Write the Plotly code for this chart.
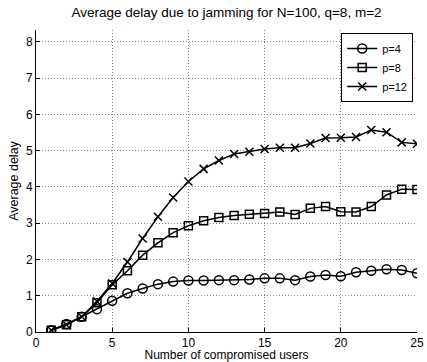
import plotly.graph_objects as go

users = list(range(1, 26))
delay_p4 = [0.05, 0.22, 0.42, 0.63, 0.86, 1.07, 1.20, 1.32, 1.39, 1.42, 1.42, 1.43, 1.43, 1.45, 1.48,
            1.48, 1.43, 1.53, 1.57, 1.54, 1.65, 1.69, 1.73, 1.71, 1.62]
delay_p8 = [0.05, 0.20, 0.42, 0.81, 1.30, 1.69, 2.12, 2.46, 2.74, 2.93, 3.07, 3.16, 3.21, 3.25, 3.27,
            3.31, 3.24, 3.41, 3.46, 3.32, 3.31, 3.46, 3.78, 3.94, 3.93]
delay_p12 = [0.05, 0.20, 0.42, 0.85, 1.34, 1.93, 2.58, 3.18, 3.71, 4.15, 4.50, 4.73, 4.91, 4.97, 5.05,
             5.08, 5.08, 5.20, 5.35, 5.36, 5.38, 5.57, 5.51, 5.23, 5.19]
series_names = ["p=4", "p=8", "p=12"]
x_ticks = [0, 5, 10, 15, 20, 25]
y_ticks = [0, 1, 2, 3, 4, 5, 6, 7, 8]

FONT = "Liberation Sans, Arial, Helvetica, sans-serif"

fig = go.Figure()
styles = [
    dict(symbol="circle-open", size=9),
    dict(symbol="square-open", size=8),
    dict(symbol="x-thin-open", size=8),
]
for name, vals, st in zip(series_names, [delay_p4, delay_p8, delay_p12], styles):
    fig.add_trace(go.Scatter(
        x=users, y=vals, name=name, mode="lines+markers",
        line=dict(color="black", width=1.5),
        marker=dict(symbol=st["symbol"], size=st["size"], color="black",
                    line=dict(color="black", width=1.5)),
    ))

fig.update_layout(
    width=427, height=362,
    margin=dict(l=36, r=10, t=30, b=30),
    paper_bgcolor="white", plot_bgcolor="white",
    font=dict(family=FONT, size=12, color="black"),
    title=dict(text="Average delay due to jamming for N=100, q=8, m=2",
               xref="paper", x=0.5, xanchor="center", y=0.967, yanchor="middle",
               font=dict(size=13.5, family=FONT, color="black")),
    legend=dict(x=0.99, xanchor="right", y=0.99, yanchor="top",
                bordercolor="black", borderwidth=1, bgcolor="white",
                font=dict(size=11, family=FONT), tracegroupgap=0,
                itemwidth=30),
    showlegend=True,
)
grid_common = dict(
    showgrid=True, gridcolor="#8a8a8a", griddash="1px,2px", gridwidth=1,
    showline=True, linecolor="black", linewidth=1,
    ticks="inside", ticklen=4, tickcolor="black",
    zeroline=False, mirror=False, automargin=False,
    tickfont=dict(size=12), ticklabeloverflow="allow",
)
fig.update_xaxes(
    range=[0, 25], tickvals=x_ticks, ticktext=[str(v) for v in x_ticks],
    title=dict(text="Number of compromised users", standoff=9, font=dict(size=12)),
    **grid_common,
)
fig.update_yaxes(
    range=[0, 8.33], tickvals=y_ticks, ticktext=[str(v) for v in y_ticks],
    title=dict(text="Average delay", standoff=4, font=dict(size=12.5)),
    **grid_common,
)

fig.write_html(
    "out.html",
    config={"displayModeBar": False},
    post_script="document.body.style.margin='0';document.body.style.overflow='hidden';",
)
